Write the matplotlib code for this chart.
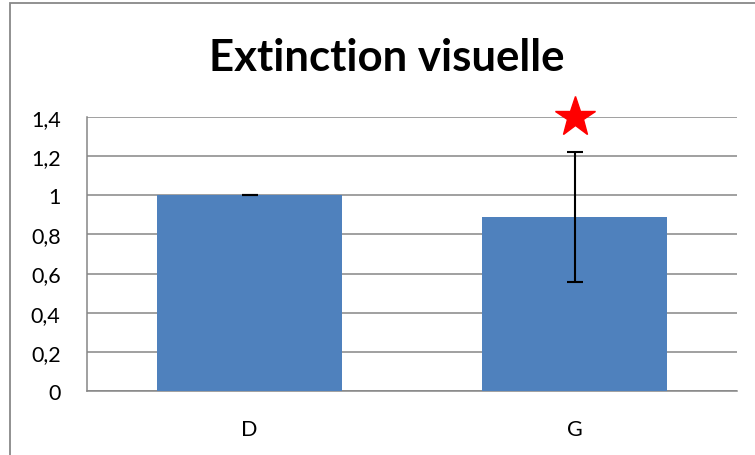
import matplotlib.pyplot as plt
from matplotlib.patches import Rectangle
from matplotlib.ticker import FuncFormatter

categories = ["D", "G"]
values = [1.0, 0.89]
errors = [0.0, 0.333]
star_value = 1.4
star_index = 1
y_ticks = [0, 0.2, 0.4, 0.6, 0.8, 1.0, 1.2, 1.4]

plt.rcParams["font.family"] = ["Lato", "DejaVu Sans"]

fig = plt.figure(figsize=(7.55, 4.56), dpi=100)
ax = fig.add_axes([87 / 755, 64 / 456, 650 / 755, 274 / 456])

# outer chart border, like the Excel chart area
fig.patches.append(Rectangle((10 / 755, -0.05), 1.2, 1.05 - 4 / 456,
                             transform=fig.transFigure, fill=False,
                             edgecolor="#888888", linewidth=1.3))

x = range(len(categories))
ax.bar(x, values, width=0.572, color="#4F81BD", zorder=3)
ax.errorbar(x, values, yerr=errors, fmt="none", ecolor="black",
            elinewidth=1.5, capsize=6, capthick=1.5, zorder=4)
ax.plot([star_index], [star_value], marker="*", color="red",
        markersize=30, linestyle="none", zorder=5, clip_on=False)

ax.set_xlim(-0.5, len(categories) - 0.5)
ax.set_ylim(0, 1.4)
ax.set_yticks(y_ticks)
ax.yaxis.set_major_formatter(FuncFormatter(lambda v, p: f"{v:g}".replace(".", ",")))
ax.set_xticks(list(x))
ax.set_xticklabels(categories)
ax.tick_params(axis="y", length=0, pad=19, labelsize=15.5)
ax.tick_params(axis="x", length=0, pad=20, labelsize=15.5)

ax.grid(axis="y", color="#868686", linewidth=1.1, zorder=0)
for side in ["top", "right"]:
    ax.spines[side].set_visible(False)
for side in ["left", "bottom"]:
    ax.spines[side].set_color("#868686")
    ax.spines[side].set_linewidth(1.1)

fig.text(387 / 755, 1 - 58 / 456, "Extinction visuelle", ha="center",
         va="center", fontsize=31.5, fontweight="bold")

fig.savefig("out.png", dpi=100)
